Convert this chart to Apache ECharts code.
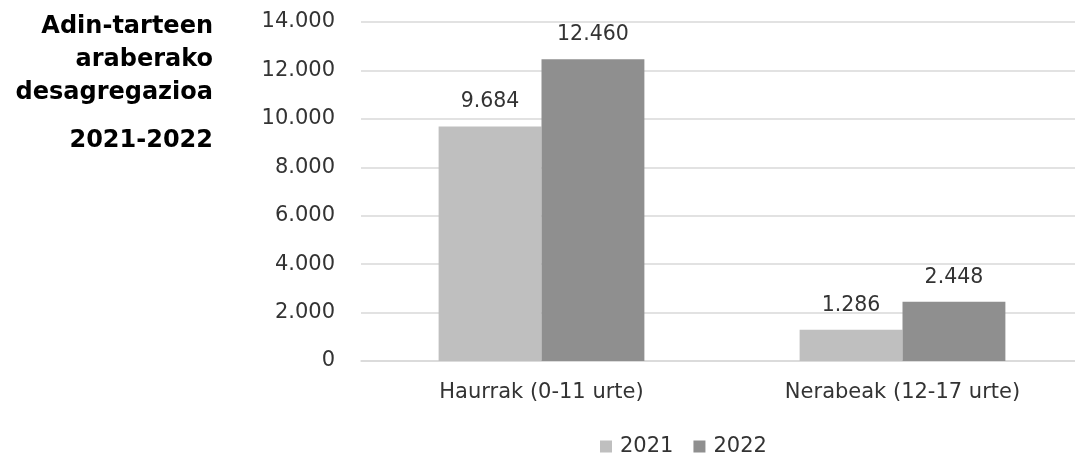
<!DOCTYPE html>
<html><head><meta charset="utf-8">
<script src="https://cdn.jsdelivr.net/npm/echarts@6/dist/echarts.min.js"></script>
<style>html,body{margin:0;padding:0;background:#fff;overflow:hidden}#c{width:1083px;height:456px}</style>
</head><body><div id="c"></div>
<script>
const categories = ['Haurrak (0-11 urte)', 'Nerabeak (12-17 urte)'];
const seriesNames = ['2021', '2022'];
const values2021 = [9684, 1286];
const values2022 = [12460, 2448];
const titleLines = ['Adin-tarteen', 'araberako', 'desagregazioa'];
const titleYears = '2021-2022';

const FONT = "'DejaVu Sans', sans-serif";
const TXT = '#333333';
function fmt(v){ return String(Math.round(v)).replace(/\B(?=(\d{3})+(?!\d))/g, '.'); }

const chart = echarts.init(document.getElementById('c'));
const labelStyle = { show: true, position: 'top', distance: 14, color: TXT, fontSize: 20.5, fontFamily: FONT, formatter: p => fmt(p.value) };
const titleFont = "bold 24px " + FONT;
const graphic = titleLines.map((t, i) => ({ type: 'text', x: 213, y: 27 + i * 33, style: { text: t, align: 'right', verticalAlign: 'middle', font: titleFont, fill: '#000' } }));
graphic.push({ type: 'text', x: 213, y: 141, style: { text: titleYears, align: 'right', verticalAlign: 'middle', font: titleFont, fill: '#000' } });
chart.setOption({
  animation: false,
  textStyle: { fontFamily: FONT },
  grid: { left: 361, top: 22, right: 0, height: 339, containLabel: false },
  xAxis: {
    type: 'category', data: categories,
    axisLine: { show: true, lineStyle: { color: '#d9d9d9', width: 1.5 } },
    axisTick: { show: false },
    axisLabel: { color: TXT, fontSize: 21, fontFamily: FONT, margin: 21 }
  },
  yAxis: {
    type: 'value', min: 0, max: 14000, interval: 2000,
    axisLine: { show: false }, axisTick: { show: false },
    splitLine: { lineStyle: { color: '#d9d9d9', width: 1.5 } },
    axisLabel: { color: TXT, fontSize: 21, fontFamily: FONT, margin: 26, formatter: fmt }
  },
  legend: {
    bottom: -6, left: 595, itemWidth: 12, itemHeight: 12, itemGap: 20,
    icon: 'rect',
    textStyle: { color: TXT, fontSize: 21, fontFamily: FONT, padding: [0,0,0,3] },
    data: seriesNames
  },
  graphic: graphic,
  series: [
    { name: seriesNames[0], type: 'bar', data: values2021, barGap: '0%', barCategoryGap: '43%', itemStyle: { color: '#bfbfbf' }, label: labelStyle },
    { name: seriesNames[1], type: 'bar', data: values2022, itemStyle: { color: '#8f8f8f' }, label: labelStyle }
  ]
});
</script></body></html>
